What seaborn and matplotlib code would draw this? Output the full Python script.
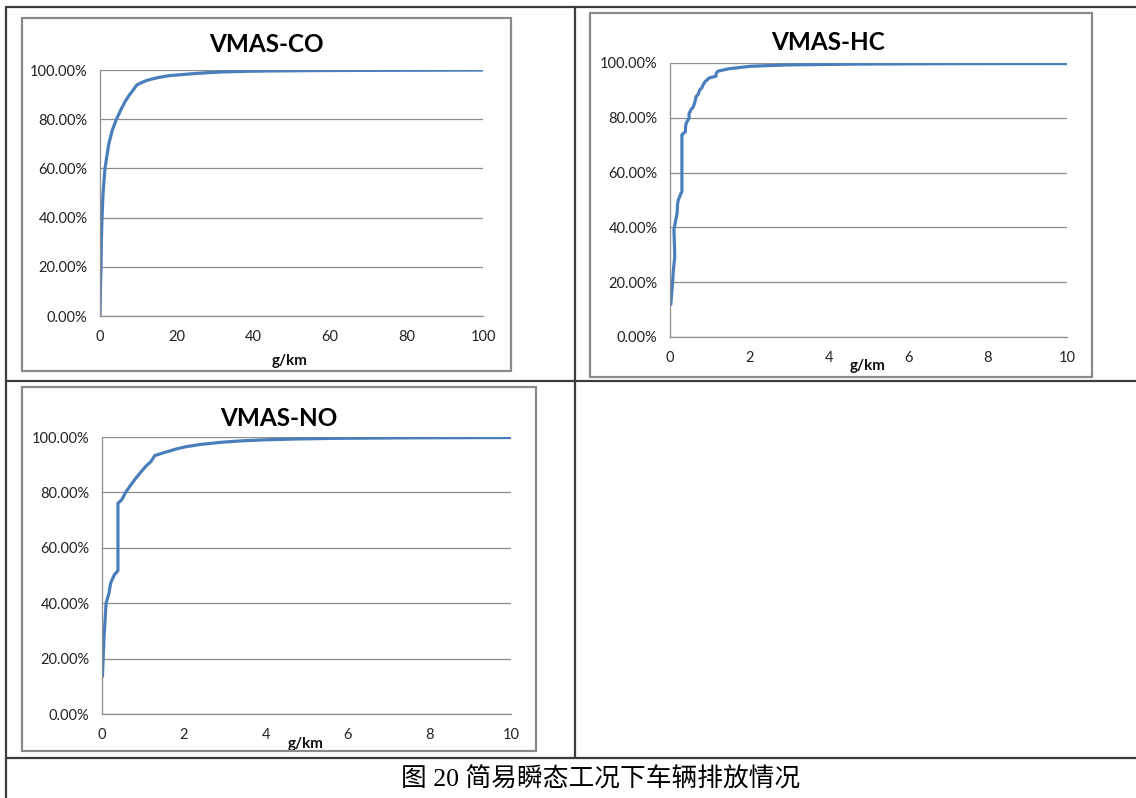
import matplotlib
matplotlib.use("Agg")
import matplotlib.pyplot as plt
from matplotlib.lines import Line2D
from matplotlib.patches import Rectangle
from matplotlib.ticker import PercentFormatter, MultipleLocator
import seaborn as sns
import pandas as pd

# Cumulative share of vehicles (%) versus emission factor (g/km)
co_gkm = [0, 0.1, 0.26, 0.35, 0.52, 0.8, 1.3, 2.3, 3.2, 4.3, 5.5, 6.5, 7.5, 8.5, 9.6,
          11, 12.5, 14.8, 18, 23.5, 28, 32, 38, 44, 55, 70, 85, 100]
co_pct = [0, 10, 20, 30, 40, 50, 60, 70, 75.5, 80, 84, 87, 89.5, 91.5, 93.9,
          95, 95.9, 96.8, 97.7, 98.4, 98.9, 99.2, 99.45, 99.6, 99.75, 99.85, 99.92, 100]

hc_gkm = [0.02, 0.07, 0.08, 0.12, 0.10, 0.18, 0.19, 0.21, 0.28, 0.30, 0.30, 0.39,
          0.39, 0.41, 0.48, 0.48, 0.53, 0.58, 0.62, 0.66, 0.71, 0.75, 0.80, 0.84,
          0.89, 0.94, 0.98, 1.16, 1.16, 1.20, 1.48, 2.03, 2.94, 4.75, 7.0, 10]
hc_pct = [11.8, 20.9, 23.5, 29.4, 39.2, 45.3, 48.5, 50.1, 52.5, 53.0, 73.8, 75.0,
          76.5, 78.1, 79.9, 81.5, 83.0, 83.8, 85.4, 87.8, 88.6, 90.2, 90.9, 92.2,
          93.3, 93.9, 94.5, 95.2, 96.0, 97.0, 97.9, 98.8, 99.3, 99.6, 99.75, 99.8]

no_gkm = [0.01, 0.05, 0.10, 0.17, 0.21, 0.30, 0.39, 0.39, 0.48, 0.57, 0.68, 0.80,
          0.93, 1.07, 1.20, 1.29, 1.57, 1.8, 2.02, 2.4, 2.92, 3.4, 4.0, 4.8, 5.6,
          7.5, 10]
no_pct = [13.5, 28.0, 40.0, 43.6, 47.2, 50.2, 51.8, 76.1, 77.3, 79.8, 82.2, 84.6,
          87.0, 89.4, 91.2, 93.3, 94.6, 95.6, 96.4, 97.3, 98.1, 98.6, 99.0, 99.3,
          99.5, 99.7, 99.8]

titles = ["VMAS-CO", "VMAS-HC", "VMAS-NO"]
x_max = [100, 10, 10]
x_step = [20, 2, 2]
x_label = "g/km"
caption = "图 20 简易瞬态工况下车辆排放情况"

W, H = 1136, 798
sns.set_theme(style="white")
plt.rcParams["font.family"] = ["Lato", "DejaVu Sans"]

fig = plt.figure(figsize=(W / 100, H / 100), dpi=100)
fig.patch.set_facecolor("white")


def fx(px):
    return px / W


def fy(py):
    return 1 - py / H


# table grid
table_col = "#3c3c3c"
for (x0, y0, x1, y1) in [(6, 7, 1136, 7), (6, 7, 6, 798), (575, 7, 575, 758),
                         (6, 381, 1136, 381), (6, 758, 1136, 758)]:
    fig.add_artist(Line2D([fx(x0), fx(x1)], [fy(y0), fy(y1)], color=table_col, lw=1.6))

# chart frames: (left, top, right, bottom) in pixels
frames = [(22, 18, 511, 371), (590, 13, 1092, 377), (22, 387, 536, 751)]
# plot areas: (left, top, right, bottom)
plots = [(100, 70, 483, 316), (670, 63, 1067, 337), (102, 437, 511, 714)]
title_xy = [(266, 45), (828, 43), (279, 418)]
xlabel_pos = [(290, 361), (868, 366), (306, 744)]

series = [(co_gkm, co_pct), (hc_gkm, hc_pct), (no_gkm, no_pct)]
line_col = "#4A7EBB"
grid_col = "#8e8e8e"

for i in range(3):
    l, t, r, b = frames[i]
    fig.add_artist(Rectangle((fx(l), fy(b)), fx(r) - fx(l), fy(t) - fy(b),
                             transform=fig.transFigure, fill=False,
                             edgecolor="#8a8a8a", lw=1.6))
    pl, pt, pr, pb = plots[i]
    ax = fig.add_axes([fx(pl), fy(pb), fx(pr) - fx(pl), fy(pt) - fy(pb)])
    df = pd.DataFrame({"x": series[i][0], "y": series[i][1]})
    sns.lineplot(data=df, x="x", y="y", ax=ax, sort=False, estimator=None,
                 color=line_col, lw=2.3)
    ax.set_xlim(0, x_max[i])
    ax.set_ylim(0, 100)
    ax.xaxis.set_major_locator(MultipleLocator(x_step[i]))
    ax.yaxis.set_major_locator(MultipleLocator(20))
    ax.yaxis.set_major_formatter(PercentFormatter(xmax=100, decimals=2))
    ax.grid(axis="y", color=grid_col, lw=0.9)
    ax.grid(axis="x", visible=False)
    ax.set_axisbelow(True)
    for s in ["top", "right"]:
        ax.spines[s].set_visible(False)
    for s in ["left", "bottom"]:
        ax.spines[s].set_color(grid_col)
        ax.spines[s].set_linewidth(0.9)
    ax.tick_params(axis="both", direction="out", length=4, width=0.9,
                   color=grid_col, labelsize=10.5, labelcolor="#222222")
    ax.tick_params(axis="x", pad=6)
    ax.tick_params(axis="y", pad=5)
    ax.set_ylabel("")
    ax.set_xlabel(x_label, fontsize=11, fontweight="bold", color="#111111")
    lx, ly = xlabel_pos[i]
    ax.xaxis.set_label_coords((lx - pl) / (pr - pl), -(ly - pb) / (pb - pt))
    ax.xaxis.label.set_verticalalignment("center")
    tx, ty = title_xy[i]
    fig.text(fx(tx), fy(ty), titles[i], ha="center", va="center",
             fontsize=17.5, fontweight="bold", color="black")

fig.text(fx(601), fy(779), caption, ha="center", va="center", fontsize=18.5,
         family=["Liberation Serif", "Noto Sans CJK SC"], color="black")

fig.savefig("out.png", dpi=100, facecolor="white")
